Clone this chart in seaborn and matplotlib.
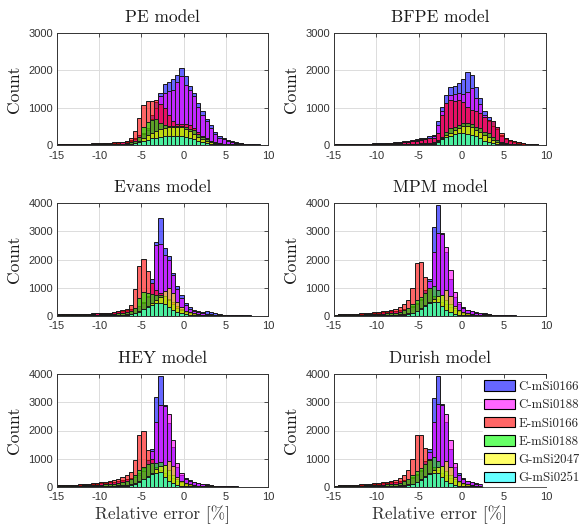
import numpy as np
import pandas as pd
import matplotlib
matplotlib.use("Agg")
import matplotlib.pyplot as plt
import seaborn as sns
from matplotlib.patches import Patch

# ---------------- data (counts per 0.5 %-wide bin, -15 ... 10) ----------------
BIN_EDGES = [-15 + 0.5 * k for k in range(51)]
SERIES = ["C-mSi0166", "C-mSi0188", "E-mSi0166", "E-mSi0188", "G-mSi2047", "G-mSi0251"]
MODELS = ["PE model", "BFPE model", "Evans model", "MPM model", "HEY model", "Durish model"]

PE_C0166 = [25,30,20,25,30,25,30,35,30,35, 40,45,50,60,70,80,100,130,180,260,
            330,450,800,1150,1390,1640,1700,1760,1880,2060, 1850,1590,1390,1120,900,690,540,360,240,200,
            130,100,70,50,40,30,20,15,10,5]
PE_C0188 = [15,20,15,20,20,20,25,25,25,30, 30,35,40,50,60,70,85,110,150,220,
            290,400,700,1000,1300,1400,1450,1480,1700,1840, 1600,1460,1300,1030,810,630,450,300,200,160,
            110,80,60,45,35,25,18,12,8,4]
PE_E0166 = [30,35,30,35,30,35,40,40,45,45, 50,55,60,70,80,90,110,180,376,717,
            1075,1180,1190,1210,1100,1000,800,650,560,560, 550,540,450,350,250,180,120,80,60,40,
            30,25,20,15,12,10,8,6,4,2]
PE_E0188 = [10,10,10,10,10,10,12,12,15,15, 18,20,22,25,30,40,50,70,120,220,
            470,620,680,700,580,530,510,510,510,500, 480,440,390,300,220,150,100,70,50,35,
            25,20,15,10,8,6,4,3,2,1]
PE_G2047 = [5,5,5,5,5,6,6,6,7,7, 8,10,12,15,18,22,28,40,60,100,
            180,260,330,380,420,450,470,480,480,470, 430,380,300,220,160,110,75,50,35,25,
            18,12,8,6,4,3,2,2,1,1]
PE_G0251 = [3,3,3,3,3,4,4,4,4,5, 5,6,8,10,12,15,20,30,45,70,
            100,140,180,200,220,230,240,245,240,235, 220,190,150,110,80,55,40,28,20,14,
            10,8,6,4,3,2,2,1,1,0]

BF_C0166 = [25,30,35,30,40,35,30,35,40,45, 45,50,55,60,70,80,95,110,130,160,
            180,200,230,270,630,1030,1340,1550,1585,1655, 1770,1950,1880,1550,1250,900,760,630,490,270,
            180,134,100,70,50,35,25,15,10,5]
BF_C0188 = [15,20,20,20,25,25,20,25,30,30, 35,40,45,50,60,70,80,95,110,130,
            150,170,190,230,530,900,1120,1330,1370,1390, 1370,1430,1520,1250,1100,800,650,520,430,230,
            150,110,80,60,40,30,20,12,8,4]
BF_E0166 = [20,25,20,25,20,25,30,30,35,35, 40,40,45,50,55,60,70,80,100,120,
            140,160,180,200,330,800,1120,1210,1190,1210, 1140,1030,940,900,850,760,670,630,490,310,
            200,140,100,70,50,35,25,15,10,5]
BF_E0188 = [5,5,5,5,5,5,6,6,7,8, 10,12,14,16,18,20,25,30,35,40,
            50,55,60,80,134,224,360,450,490,530, 580,580,560,490,450,360,313,224,134,90,
            60,40,25,15,10,6,4,3,2,1]
BF_G2047 = [3,3,3,3,3,4,4,4,4,5, 5,6,7,8,9,10,12,15,18,22,
            28,32,40,60,100,180,270,313,400,450, 520,520,480,400,340,270,206,134,90,60,
            40,28,18,12,8,5,3,2,1,1]
BF_G0251 = [2,2,2,2,2,2,2,3,3,3, 3,4,4,5,5,6,8,10,12,15,
            18,20,25,40,90,150,220,250,300,320, 330,300,280,250,180,120,80,55,35,22,
            15,10,6,4,3,2,1,1,0,0]

EV_C0166 = [50,55,60,60,65,70,70,75,80,85, 90,95,100,110,120,140,170,200,260,350,
            480,700,1300,2610,3460,2400,2130,1530,1060,720, 450,300,220,170,130,150,120,80,50,30,
            30,25,20,15,10,8,5,3,2,1]
EV_C0188 = [40,45,50,50,55,60,60,65,70,80, 90,100,110,130,150,170,200,240,280,330,
            450,650,1150,2500,2540,2160,2000,1450,950,620, 380,240,170,130,90,70,50,40,30,20,
            15,12,10,8,6,4,3,2,1,1]
EV_E0166 = [40,45,50,55,55,60,65,70,75,80, 90,100,110,130,160,200,250,380,960,1780,
            2006,1590,1180,900,800,700,600,480,350,250, 140,100,70,50,40,30,20,15,10,8,
            6,5,4,3,2,2,1,1,1,0]
EV_E0188 = [20,20,25,25,30,30,35,35,40,40, 45,50,60,70,80,100,130,180,280,620,
            860,800,780,740,740,700,560,400,280,200, 120,90,60,45,30,20,15,10,8,5,
            4,3,2,2,1,1,1,0,0,0]
EV_G2047 = [10,10,12,12,14,14,15,16,17,18, 20,22,25,28,32,40,50,60,90,150,
            250,350,450,550,680,880,980,800,500,300, 180,120,90,60,40,28,18,12,8,5,
            4,3,2,1,1,1,0,0,0,0]
EV_G0251 = [5,5,5,6,6,6,7,7,8,9, 10,12,14,16,20,25,35,50,80,120,
            230,300,380,450,450,420,300,200,120,80, 50,35,25,18,12,8,6,4,3,2,
            1,1,1,0,0,0,0,0,0,0]

MP_C0166 = [40,45,50,55,60,65,70,75,80,90, 100,110,120,130,150,180,220,280,350,450,
            600,900,1300,3150,3940,2950,2280,1300,650,400, 300,220,180,140,110,80,60,40,30,20,
            15,10,8,6,4,3,2,1,1,0]
MP_C0188 = [30,35,40,45,50,55,60,70,80,90, 100,120,140,160,180,200,230,270,320,400,
            550,800,1250,2280,2940,2900,2450,1640,830,475, 280,200,150,110,80,60,45,30,20,15,
            10,8,6,4,3,2,1,1,1,0]
MP_E0166 = [40,45,50,55,60,70,80,90,100,120, 140,160,180,210,250,320,400,560,970,1860,
            1900,1390,1000,700,600,500,400,300,220,150, 100,70,50,35,25,18,12,8,5,3,
            2,2,1,1,1,0,0,0,0,0]
MP_E0188 = [20,20,25,25,30,35,40,45,50,55, 60,70,80,90,110,140,190,270,400,560,
            680,800,980,1050,920,740,560,400,280,180, 110,70,45,30,20,12,8,5,3,2,
            1,1,1,0,0,0,0,0,0,0]
MP_G2047 = [10,10,12,12,14,15,16,17,18,19, 20,25,30,35,40,50,60,80,110,180,
            280,380,480,600,700,750,900,700,350,200, 120,80,50,30,20,12,8,5,3,2,
            1,1,0,0,0,0,0,0,0,0]
MP_G0251 = [5,5,6,6,7,7,8,8,9,9, 10,12,15,18,22,28,40,60,90,150,
            250,350,450,480,500,350,200,120,70,40, 25,15,10,6,4,3,2,1,1,0,
            0,0,0,0,0,0,0,0,0,0]

HE_C0166 = [50,55,60,65,70,75,80,90,100,110, 120,130,150,170,190,220,260,320,400,500,
            650,950,1350,3180,3950,2900,2250,1400,700,400, 300,230,180,140,110,80,60,40,30,20,
            15,10,8,6,4,3,2,1,1,0]
HE_C0188 = [40,45,50,55,60,65,70,80,90,100, 120,140,160,180,200,230,260,300,350,420,
            560,820,1280,2300,2900,2870,2575,1660,860,480, 290,210,160,120,90,65,45,30,20,15,
            10,8,6,4,3,2,1,1,1,0]
HE_E0166 = [50,55,60,65,70,80,90,100,120,140, 160,180,200,240,280,340,420,520,950,1830,
            1980,1300,1000,700,600,500,400,300,220,150, 100,70,50,35,25,18,12,8,5,3,
            2,2,1,1,1,0,0,0,0,0]
HE_E0188 = [25,25,30,30,35,40,45,50,55,60, 70,80,90,100,120,150,200,280,420,580,
            700,820,850,860,880,760,580,400,280,180, 110,70,45,30,20,12,8,5,3,2,
            1,1,1,0,0,0,0,0,0,0]
HE_G2047 = [12,12,14,14,16,17,18,19,20,21, 25,30,35,40,45,55,65,85,120,190,
            290,390,500,620,720,780,900,720,360,200, 120,80,50,30,20,12,8,5,3,2,
            1,1,0,0,0,0,0,0,0,0]
HE_G0251 = [6,6,7,7,8,8,9,9,10,10, 12,14,17,20,25,30,42,62,95,160,
            260,360,460,500,520,360,210,120,70,40, 25,15,10,6,4,3,2,1,1,0,
            0,0,0,0,0,0,0,0,0,0]

DU_C0166 = [40,45,50,55,60,65,70,75,80,90, 100,110,120,130,150,180,220,280,350,450,
            600,900,1350,3145,3953,2960,2300,1350,700,475, 300,220,180,140,110,80,60,40,30,20,
            15,10,8,6,4,3,2,1,1,0]
DU_C0188 = [30,35,40,45,50,55,60,70,80,90, 100,120,140,160,180,200,230,270,320,400,
            550,800,1250,2300,2950,2900,2600,1650,830,400, 280,200,150,110,80,60,45,30,20,15,
            10,8,6,4,3,2,1,1,1,0]
DU_E0166 = [40,45,50,55,60,70,80,90,100,120, 140,160,180,210,250,320,400,580,980,1850,
            1850,1390,1000,700,600,500,400,300,220,150, 100,70,50,35,25,18,12,8,5,3,
            2,2,1,1,1,0,0,0,0,0]
DU_E0188 = [20,20,25,25,30,35,40,45,50,55, 60,70,80,90,110,140,190,270,400,560,
            680,800,960,1050,900,740,560,400,280,180, 110,70,45,30,20,12,8,5,3,2,
            1,1,1,0,0,0,0,0,0,0]
DU_G2047 = [10,10,12,12,14,15,16,17,18,19, 20,25,30,35,40,50,60,80,110,180,
            280,380,480,600,700,750,900,700,350,200, 120,80,50,30,20,12,8,5,3,2,
            1,1,0,0,0,0,0,0,0,0]
DU_G0251 = [5,5,6,6,7,7,8,8,9,9, 10,12,15,18,22,28,40,60,90,150,
            250,350,450,480,500,350,200,120,70,40, 25,15,10,6,4,3,2,1,1,0,
            0,0,0,0,0,0,0,0,0,0]

PANEL_DATA = [
    [PE_C0166, PE_C0188, PE_E0166, PE_E0188, PE_G2047, PE_G0251],
    [BF_C0166, BF_C0188, BF_E0166, BF_E0188, BF_G2047, BF_G0251],
    [EV_C0166, EV_C0188, EV_E0166, EV_E0188, EV_G2047, EV_G0251],
    [MP_C0166, MP_C0188, MP_E0166, MP_E0188, MP_G2047, MP_G0251],
    [HE_C0166, HE_C0188, HE_E0166, HE_E0188, HE_G2047, HE_G0251],
    [DU_C0166, DU_C0188, DU_E0166, DU_E0188, DU_G2047, DU_G0251],
]
YMAX = [3000, 3000, 4000, 4000, 4000, 4000]

# ---------------- style ----------------
COLORS = [(0, 0, 1), (1, 0, 1), (1, 0, 0), (0, 1, 0), (1, 1, 0), (0, 1, 1)]
FACE_ALPHA = 0.6
SERIF = ["cmr10", "DejaVu Serif"]

sns.set_style("white")
plt.rcParams["font.family"] = ["Liberation Sans", "DejaVu Sans"]
plt.rcParams["axes.unicode_minus"] = False
plt.rcParams["axes.formatter.use_mathtext"] = False

W, H = 579, 528
fig = plt.figure(figsize=(W / 100, H / 100), dpi=100)
fig.patch.set_facecolor("white")

col_x = [(57, 268), (334, 546)]
row_y = [(33, 145), (203.3, 315.7), (374.3, 486.7)]

edges = np.array(BIN_EDGES)
centers = edges[:-1] + 0.25

for k, (title, series_vals) in enumerate(zip(MODELS, PANEL_DATA)):
    r, c = divmod(k, 2)
    x0, x1 = col_x[c]
    y0, y1 = row_y[r]
    ax = fig.add_axes([x0 / W, 1 - y1 / H, (x1 - x0) / W, (y1 - y0) / H])
    for name, vals, col in zip(SERIES, series_vals, COLORS):
        assert len(vals) == 50
        df = pd.DataFrame({"err": centers, "n": np.asarray(vals, dtype=float)})
        sns.histplot(data=df, x="err", weights="n", binwidth=0.5,
                     binrange=(BIN_EDGES[0], BIN_EDGES[-1]), color=col,
                     alpha=FACE_ALPHA, edgecolor="black", linewidth=0.7, ax=ax)
    for p in ax.patches:
        fc = p.get_facecolor()
        p.set_alpha(None)
        p.set_facecolor((fc[0], fc[1], fc[2], FACE_ALPHA))
        p.set_edgecolor((0.1, 0.1, 0.1, 1.0))
    ax.set_xlim(-15, 10)
    ax.set_ylim(0, YMAX[k])
    ax.set_xticks([-15, -10, -5, 0, 5, 10])
    ax.set_yticks(list(range(0, YMAX[k] + 1, 1000)))
    ax.set_axisbelow(True)
    ax.grid(True, color="#dcdcdc", linewidth=0.7)
    for s in ax.spines.values():
        s.set_color("#333333")
        s.set_linewidth(0.7)
    ax.tick_params(direction="in", length=3, width=0.6, top=True, right=True,
                   labelsize=8, labelcolor="#333333", color="#333333", pad=3)
    ax.tick_params(axis="x", pad=4)
    ax.set_title(title, fontfamily=SERIF, fontsize=12.5, pad=8, color="#1a1a1a")
    ax.set_ylabel("Count", fontfamily=SERIF, fontsize=12.5, color="#1a1a1a")
    ax.yaxis.set_label_coords(-0.165, 0.5)
    if r == 2:
        ax.set_xlabel("Relative error [%]", fontfamily=SERIF, fontsize=12.5, color="#333333")
        ax.xaxis.set_label_coords(0.5, -0.17)
    else:
        ax.set_xlabel("")

handles = [Patch(facecolor=(cc[0], cc[1], cc[2], FACE_ALPHA), edgecolor="black", linewidth=0.8)
           for cc in COLORS]
leg = fig.legend(handles, SERIES, loc="upper left", bbox_to_anchor=(483 / W, 1 - 379 / H),
                 bbox_transform=fig.transFigure, prop={"family": SERIF, "size": 9.3},
                 frameon=True, facecolor="white", edgecolor="white", framealpha=1,
                 fancybox=False, borderpad=0.1, handlelength=2.4, handleheight=0.9,
                 handletextpad=0.23, labelspacing=0.42, borderaxespad=0)

fig.savefig("out.png", dpi=100, facecolor="white")
